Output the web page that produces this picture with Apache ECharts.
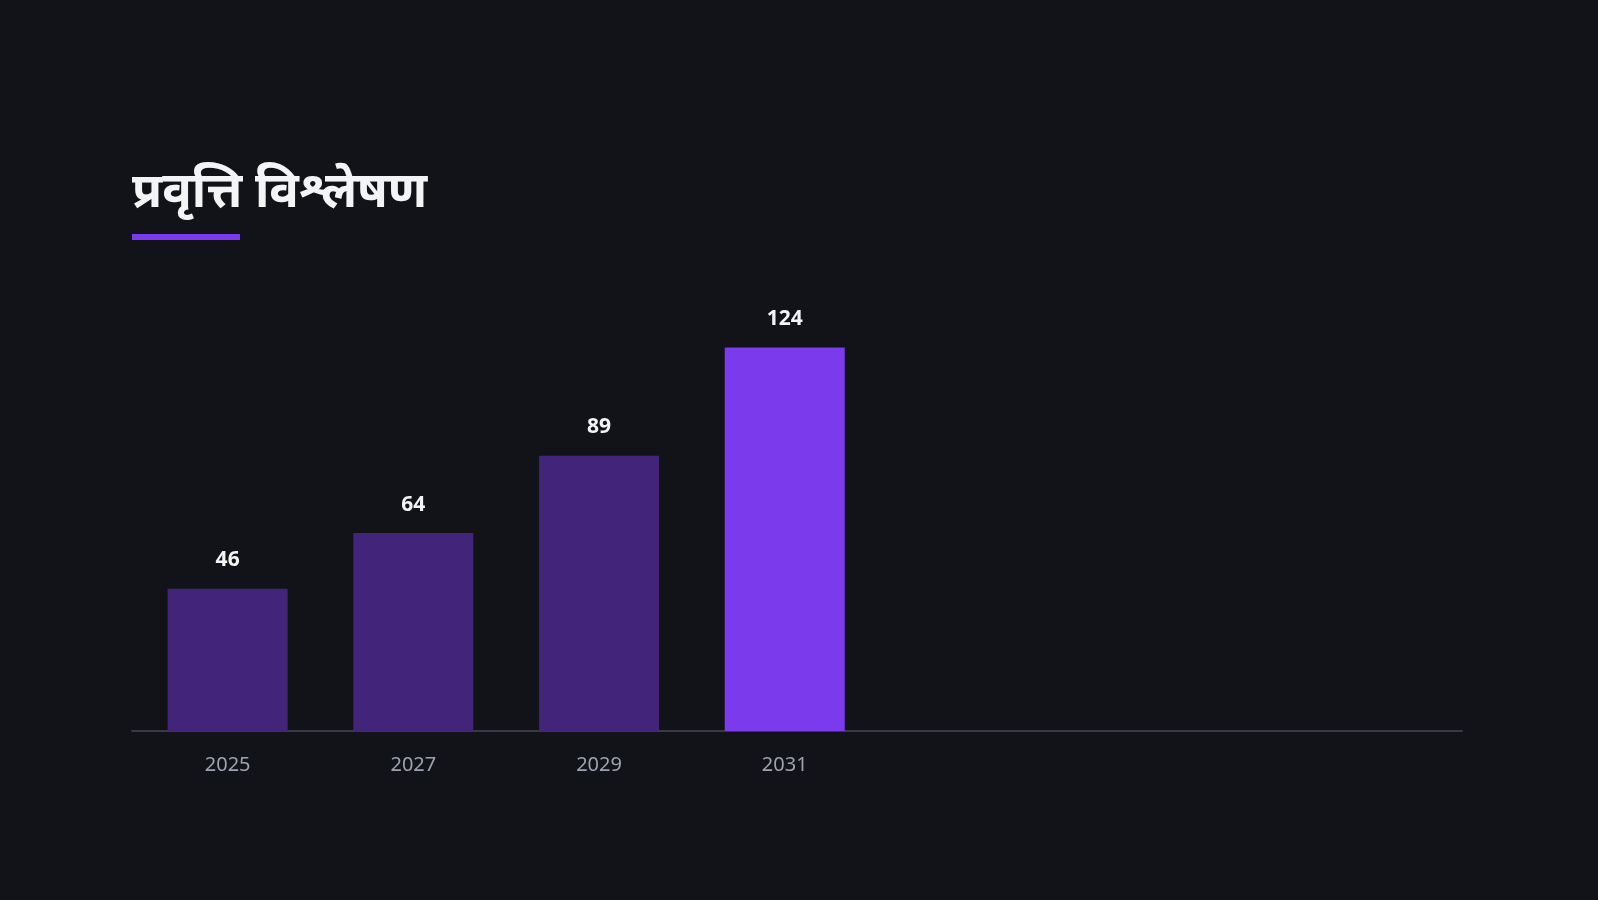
<!DOCTYPE html>
<html>

<head>
    <meta charset="utf-8">
    <script src="https://cdn.jsdelivr.net/npm/echarts@6/dist/echarts.min.js"></script>
    <title>Trend</title>
    <style>
        html, body { margin: 0; padding: 0; background: #121318; }
    </style>
</head>

<body>
    <div id="main" style="width:1598px;height:900px;"></div>
    <script type="text/javascript">
        var titleText = 'प्रवृत्ति विश्लेषण';
        var years = ['2025', '2027', '2029', '2031'];
        var values = [46, 64, 89, 124];

        var myChart = echarts.init(document.getElementById('main'));

        // bars sit on a value axis so the band width can match the picture
        var barData = [];
        for (var i = 0; i < values.length; i++) {
            barData.push([i, values[i]]);
        }
        var peakIndex = values.indexOf(Math.max.apply(null, values));

        var option = {
            backgroundColor: '#121318',
            title: {
                text: titleText,
                left: 127,
                top: 164,
                textStyle: {
                    color: '#f3f4f6',
                    fontSize: 49,
                    fontWeight: 'bold',
                    fontFamily: '"Noto Sans", sans-serif'
                }
            },
            graphic: [{
                type: 'rect',
                left: 132,
                top: 234,
                shape: { width: 108, height: 6 },
                style: { fill: '#7c3aed' }
            }],
            grid: {
                left: 132,
                right: 136,
                top: 298,
                bottom: 169
            },
            xAxis: {
                type: 'value',
                min: -0.515,
                max: 6.647,
                splitLine: { show: false },
                axisTick: { show: false },
                axisLine: {
                    show: true,
                    lineStyle: { color: '#3a3b42', width: 2 }
                },
                axisLabel: {
                    customValues: [0, 1, 2, 3],
                    color: '#9ca3af',
                    fontSize: 20,
                    margin: 24,
                    fontFamily: '"Noto Sans", sans-serif',
                    formatter: function (v) {
                        return years[Math.round(v)] || '';
                    }
                }
            },
            yAxis: {
                type: 'value',
                min: 0,
                max: 140,
                show: false,
                splitLine: { show: false }
            },
            series: [{
                type: 'bar',
                data: barData,
                barWidth: 120,
                itemStyle: {
                    color: function (params) {
                        return params.dataIndex === peakIndex ? '#7c3aed' : '#42247a';
                    }
                },
                label: {
                    show: true,
                    position: 'top',
                    distance: 18,
                    color: '#f3f4f6',
                    fontSize: 21,
                    fontWeight: 'bold',
                    fontFamily: '"Noto Sans", sans-serif',
                    formatter: function (p) {
                        return p.value[1];
                    }
                }
            }]
        };

        myChart.setOption(option);
    </script>
</body>

</html>
